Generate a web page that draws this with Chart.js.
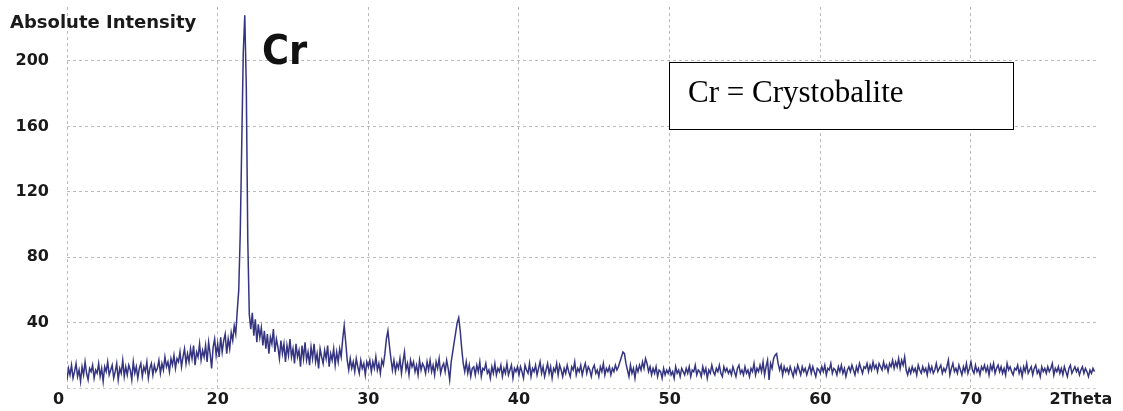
<!DOCTYPE html>
<html>
<head>
<meta charset="utf-8">
<script src="https://cdn.jsdelivr.net/npm/chart.js@4.4.1/dist/chart.umd.min.js"></script>
<style>
  html, body { margin: 0; padding: 0; background: #ffffff; }
  canvas { display: block; }
</style>
</head>
<body>
<canvas id="c" width="1123" height="411"></canvas>
<script>
// ---- Data (2Theta step 0.1 deg) ----
const thetaStep = 0.1;
const int10to20 = [
  5,12,8,14,6,10,15,7,11,4,
  13,8,16,9,5,12,10,14,6,11,
  9,15,7,12,4,13,10,16,8,11,
  14,6,10,15,5,12,9,17,7,13,
  8,14,11,5,16,9,13,6,12,15,
  7,13,10,16,6,12,15,8,14,10,
  12,17,9,15,11,19,13,16,10,18,
  14,20,12,18,16,22,13,19,24,15,
  21,16,24,18,26,14,22,19,27,17,
  23,19,26,16,28,21,12,25,30,20
];
const int20to30 = [
  27,19,31,22,29,33,21,30,24,34,
  29,38,33,47,60,95,150,205,228,185,
  90,45,36,46,32,42,28,39,31,37,
  26,35,24,33,21,31,27,36,22,30,
  25,18,29,21,27,16,26,20,30,19,
  24,15,27,19,23,13,26,18,28,17,
  22,14,25,18,27,16,21,12,24,19,
  15,23,18,26,13,21,17,24,14,22,
  16,24,19,30,38,28,17,11,18,12,
  16,10,18,13,9,17,12,15,8,16
];
const int30to40 = [
  13,17,10,16,12,19,11,15,9,17,
  14,21,30,35,26,18,11,17,10,15,
  12,18,9,16,22,11,15,8,17,13,
  16,10,14,8,17,11,15,13,9,16,
  11,17,10,14,8,16,12,18,9,13,
  15,10,17,12,5,16,22,28,34,40,
  43,35,24,15,10,16,9,14,7,12,
  13,8,14,10,16,7,12,11,15,9,
  11,6,13,9,15,8,12,10,14,7,
  12,9,15,8,11,14,6,12,10,13
];
const int40to50 = [
  8,13,10,6,14,11,9,15,7,12,
  10,14,8,12,16,9,13,7,11,15,
  9,13,6,12,10,15,8,14,11,7,
  12,9,14,10,7,13,11,16,8,12,
  10,14,8,12,15,9,13,11,7,12,
  14,9,11,7,13,10,15,8,12,10,
  13,8,12,10,14,11,13,16,19,22,
  21,15,11,7,14,9,12,6,13,10,
  14,11,16,12,18,15,10,13,8,12,
  9,13,7,11,10,6,12,8,11,9
];
const int50to60 = [
  12,8,10,6,13,9,11,7,12,10,
  8,12,9,13,7,11,10,14,8,11,
  10,7,13,9,12,6,11,9,14,10,
  8,12,10,14,9,7,13,10,12,9,
  11,8,13,10,7,12,14,9,11,8,
  13,9,11,7,12,10,15,8,12,10,
  14,10,16,8,13,17,5,15,12,18,
  20,21,15,11,14,8,13,10,12,9,
  13,10,7,12,9,14,11,8,13,10,
  12,8,11,14,9,13,10,7,12,11
];
const int60to70 = [
  9,13,10,14,8,12,11,15,9,12,
  11,8,13,10,14,9,12,7,11,13,
  10,14,11,8,13,10,15,12,9,13,
  12,15,10,14,11,16,12,14,10,15,
  13,11,16,12,14,10,15,13,17,12,
  16,13,18,12,17,14,19,11,8,12,
  9,13,10,12,8,14,11,9,13,10,
  12,8,14,10,13,9,11,15,10,12,
  14,9,12,10,13,17,8,12,15,10,
  12,9,14,11,8,13,10,15,9,12
];
const int70to78 = [
  16,11,9,14,10,12,8,13,11,14,
  10,13,8,14,11,15,9,12,14,10,
  13,9,12,8,15,11,13,10,8,12,
  11,14,9,12,7,13,10,15,9,11,
  13,8,12,14,9,11,7,13,10,12,
  9,13,10,12,15,8,12,10,13,9,
  12,8,13,10,7,12,14,9,11,13,
  10,12,8,11,13,9,12,10,7,11,
  9,12,10
];
const chunkStarts = [10, 20, 30, 40, 50, 60, 70];
const chunks = [int10to20, int20to30, int30to40, int40to50, int50to60, int60to70, int70to78];

const xTickValues = [10, 20, 30, 40, 50, 60, 70];
const xTickLabels = ['0   ', '20', '30', '40', '50', '60', '70'];
const xAxisName = '2Theta';
const xAxisNamePos = 77.3;
const yTickValues = [40, 80, 120, 160, 200];
const yAxisName = 'Absolute Intensity';
const peakLabel = 'Cr';
const legendText = 'Cr = Crystobalite';

// build points
const points = [];
chunks.forEach((arr, ci) => {
  arr.forEach((v, i) => {
    points.push({ x: Math.round((chunkStarts[ci] + i * thetaStep) * 10) / 10, y: v });
  });
});

const gridCol = 'rgba(150,150,150,0.65)';

const overlay = {
  id: 'overlay',
  afterDraw(chart) {
    const ctx = chart.ctx;
    ctx.save();
    ctx.fillStyle = '#1a1a1a';
    ctx.font = 'bold 18px "DejaVu Sans", sans-serif';
    ctx.textBaseline = 'alphabetic';
    ctx.textAlign = 'left';
    ctx.fillText(yAxisName, 10, 28);
    ctx.fillStyle = '#111111';
    ctx.font = 'bold 41px "Liberation Sans Narrow", "DejaVu Sans Condensed", sans-serif';
    ctx.fillText(peakLabel, 262, 64);
    ctx.fillStyle = '#ffffff';
    ctx.fillRect(669, 62, 344, 67);
    ctx.strokeStyle = '#000000';
    ctx.lineWidth = 1;
    ctx.strokeRect(669.5, 62.5, 344, 67);
    ctx.fillStyle = '#000000';
    ctx.font = '31px "Liberation Serif", "Times New Roman", serif';
    ctx.fillText(legendText, 688, 102);
    ctx.restore();
  }
};

new Chart(document.getElementById('c'), {
  type: 'line',
  data: {
    datasets: [{
      data: points,
      borderColor: 'rgba(30,30,115,0.9)',
      borderWidth: 1.5,
      pointRadius: 0,
      tension: 0,
      fill: false
    }]
  },
  options: {
    responsive: false,
    animation: false,
    devicePixelRatio: 1,
    layout: { autoPadding: false, padding: { top: 7, right: 27, left: 0, bottom: 0 } },
    plugins: { legend: { display: false }, tooltip: { enabled: false }, title: { display: false } },
    scales: {
      x: {
        type: 'linear',
        min: 10,
        max: 78.3,
        afterBuildTicks: (scale) => {
          scale.ticks = xTickValues.map(v => ({ value: v })).concat([{ value: xAxisNamePos }]);
        },
        afterFit: (scale) => {
          scale.height = 23;
          scale.paddingLeft = 0; scale.paddingRight = 0;
          scale.paddingTop = 0; scale.paddingBottom = 0;
        },
        ticks: {
          autoSkip: false,
          maxRotation: 0,
          padding: 2,
          color: '#1a1a1a',
          font: { family: '"DejaVu Sans", sans-serif', weight: 'bold', size: 16 },
          callback: (v) => {
            if (v === xAxisNamePos) return xAxisName;
            const i = xTickValues.indexOf(v);
            return i >= 0 ? xTickLabels[i] : '';
          }
        },
        grid: {
          drawTicks: false,
          color: (c) => (c.tick && c.tick.value === xAxisNamePos) ? 'rgba(0,0,0,0)' : gridCol,
          lineWidth: 1
        },
        border: { display: false, dash: [3, 3] }
      },
      y: {
        type: 'linear',
        min: 0,
        max: 233,
        afterBuildTicks: (scale) => {
          scale.ticks = [0].concat(yTickValues).map(v => ({ value: v }));
        },
        afterFit: (scale) => {
          scale.width = 67;
          scale.paddingTop = 0; scale.paddingBottom = 0;
          scale.paddingLeft = 0; scale.paddingRight = 0;
        },
        ticks: {
          padding: 18,
          color: '#1a1a1a',
          font: { family: '"DejaVu Sans", sans-serif', weight: 'bold', size: 16 },
          callback: (v) => (yTickValues.indexOf(v) >= 0 ? String(v) : '')
        },
        grid: {
          drawTicks: false,
          color: (c) => (c.tick && c.tick.value === 0) ? 'rgba(200,200,185,0.9)' : gridCol,
          lineWidth: 1
        },
        border: { display: false, dash: [3, 3] }
      }
    }
  },
  plugins: [overlay]
});
</script>
</body>
</html>
